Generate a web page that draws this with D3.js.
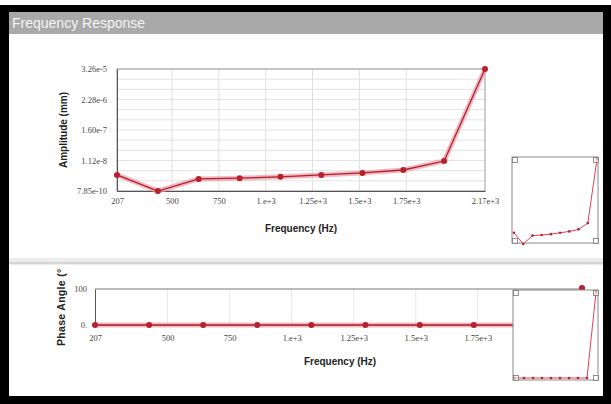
<!DOCTYPE html>
<html>
<head>
<meta charset="utf-8">
<script src="https://d3js.org/d3.v7.min.js"></script>
<style>
  body { margin: 0; background: #fff; }
  svg { display: block; font-family: "Liberation Sans", Arial, sans-serif; }
</style>
</head>
<body>
<div id="chart"></div>
<script>
// data
var freqs = [207, 425, 643, 861, 1079, 1297, 1516, 1734, 1952, 2170];
var amplitude = [3.2e-9, 7.85e-10, 2.25e-9, 2.4e-9, 2.7e-9, 3.2e-9, 3.8e-9, 4.9e-9, 1.07e-8, 3.26e-5];
var phase = [0, 0, 0, 0, 0, 0, 0, 0, 0, 100];

var xTickVals = [207, 500, 750, 1000, 1250, 1500, 1750, 2170];
var xTickLabels = ["207", "500", "750", "1.e+3", "1.25e+3", "1.5e+3", "1.75e+3", "2.17e+3"];
var ampTickVals = [7.85e-10, 1.12e-8, 1.60e-7, 2.28e-6, 3.26e-5];
var ampTickLabels = ["7.85e-10", "1.12e-8", "1.60e-7", "2.28e-6", "3.26e-5"];
var phaseTickVals = [0, 100];
var phaseTickLabels = ["0.", "100"];

var width = 611, height = 404;
var svg = d3.select("#chart").append("svg")
  .attr("width", width).attr("height", height);

// window frame
svg.append("rect").attr("x", 0).attr("y", 0).attr("width", width).attr("height", height).attr("fill", "#fff");
svg.append("rect").attr("x", 0).attr("y", 5).attr("width", width).attr("height", height - 5).attr("fill", "#000");
svg.append("rect").attr("x", 9).attr("y", 12).attr("width", 594).attr("height", 384).attr("fill", "#fff");

// title bar
svg.append("rect").attr("x", 9).attr("y", 12).attr("width", 594).attr("height", 22).attr("fill", "#a9a9a9");
svg.append("text").attr("x", 12).attr("y", 28)
  .attr("fill", "#f4f4f4").attr("font-size", "14px")
  .text("Frequency Response");

// separator between the two panels
svg.append("rect").attr("x", 9).attr("y", 258).attr("width", 594).attr("height", 7).attr("fill", "#ececec");
svg.append("line").attr("x1", 9).attr("x2", 603).attr("y1", 263).attr("y2", 263).attr("stroke", "#bdbdbd");

var labelOf = function(vals, labels) { return d => labels[vals.indexOf(d)]; };

function drawSeries(g, x, y, values, r, halo) {
  var line = d3.line().x((d, i) => x(freqs[i])).y(d => y(d));
  if (halo) {
    g.append("path").datum(values).attr("d", line)
      .attr("fill", "none").attr("stroke", "#f29aa5").attr("stroke-opacity", 0.7)
      .attr("stroke-width", 5).attr("stroke-linejoin", "round");
  }
  g.append("path").datum(values).attr("d", line)
    .attr("fill", "none").attr("stroke", halo ? "#a8222e" : "#e0405a")
    .attr("stroke-width", halo ? 1.3 : 1);
  g.selectAll("circle.pt").data(values).join("circle").attr("class", "pt")
    .attr("cx", (d, i) => x(freqs[i])).attr("cy", d => y(d))
    .attr("r", r).attr("fill", "#b8202e");
}

function drawInset(x0, y0, w, h, x, y, values) {
  var g = svg.append("g");
  g.append("rect").attr("x", x0).attr("y", y0).attr("width", w).attr("height", h)
    .attr("fill", "#fff").attr("stroke", "#8a8a8a");
  drawSeries(g, x, y, values, 1.3, false);
  var s = 5;
  [[x0, y0], [x0 + w - s, y0], [x0, y0 + h - s], [x0 + w - s, y0 + h - s]].forEach(function(c) {
    g.append("rect").attr("x", c[0] + 0.5).attr("y", c[1] + 0.5).attr("width", s).attr("height", s)
      .attr("fill", "#fff").attr("fill-opacity", 0.6).attr("stroke", "#777").attr("stroke-width", 0.8);
  });
}

// ---------- top panel: amplitude ----------
var xTop = d3.scaleLinear().domain([207, 2170]).range([117, 485]);
var yTop = d3.scaleLog().domain([7.85e-10, 3.26e-5]).range([191, 69]);

var topG = svg.append("g");
// grid
var minor = [];
for (var i = 0; i < ampTickVals.length - 1; i++) {
  var a = ampTickVals[i], b = ampTickVals[i + 1], k = Math.pow(b / a, 1 / 3);
  minor.push(a * k, a * k * k);
}
topG.selectAll(".hgrid").data(ampTickVals.concat(minor)).join("line").attr("class", "hgrid")
  .attr("x1", 117).attr("x2", 485).attr("y1", d => yTop(d)).attr("y2", d => yTop(d))
  .attr("stroke", "#e3e3e3");
topG.selectAll(".vgrid").data(xTickVals.slice(1, -1)).join("line").attr("class", "vgrid")
  .attr("x1", d => xTop(d)).attr("x2", d => xTop(d)).attr("y1", 69).attr("y2", 191)
  .attr("stroke", "#e0e0e0");
topG.append("rect").attr("x", 117).attr("y", 69).attr("width", 368).attr("height", 122)
  .attr("fill", "none").attr("stroke", "#9a9a9a");

topG.append("g").attr("transform", "translate(0,191)")
  .call(d3.axisBottom(xTop).tickValues(xTickVals).tickFormat(labelOf(xTickVals, xTickLabels)).tickSize(0).tickPadding(7))
  .call(g => g.select(".domain").attr("stroke", "#555"))
  .selectAll("text").attr("font-size", "8.5px").attr("fill", "#444").attr("font-family", "Liberation Serif, serif");
topG.append("g").attr("transform", "translate(117,0)")
  .call(d3.axisLeft(yTop).tickValues(ampTickVals).tickFormat(labelOf(ampTickVals, ampTickLabels)).tickSize(0).tickPadding(10))
  .call(g => g.select(".domain").attr("stroke", "#555"))
  .selectAll("text").attr("font-size", "8.5px").attr("fill", "#444").attr("font-family", "Liberation Serif, serif");

drawSeries(topG, xTop, yTop, amplitude, 3, true);

topG.append("text").attr("x", 301).attr("y", 232).attr("text-anchor", "middle")
  .attr("font-size", "10px").attr("font-weight", "bold").attr("fill", "#222").text("Frequency (Hz)");
topG.append("text").attr("transform", "translate(67,130) rotate(-90)").attr("text-anchor", "middle")
  .attr("font-size", "10px").attr("font-weight", "bold").attr("fill", "#222").text("Amplitude (mm)");

drawInset(512, 157, 86, 86,
  d3.scaleLinear().domain([207, 2170]).range([514, 597]),
  d3.scaleLog().domain([7.85e-10, 3.26e-5]).range([244, 159]),
  amplitude);

// ---------- bottom panel: phase ----------
var xBot = d3.scaleLinear().domain([207, 2170]).range([95, 582]);
var yBot = d3.scaleLinear().domain([0, 100]).range([325, 289]);

var botG = svg.append("g");
botG.selectAll(".vgrid").data(xTickVals.slice(1, -1)).join("line").attr("class", "vgrid")
  .attr("x1", d => xBot(d)).attr("x2", d => xBot(d)).attr("y1", 289).attr("y2", 325)
  .attr("stroke", "#e6e6e6");
botG.append("line").attr("x1", 95).attr("x2", 582).attr("y1", 289).attr("y2", 289).attr("stroke", "#777");

botG.append("g").attr("transform", "translate(0,325)")
  .call(d3.axisBottom(xBot).tickValues(xTickVals).tickFormat(labelOf(xTickVals, xTickLabels)).tickSize(0).tickPadding(10))
  .call(g => g.select(".domain").attr("stroke", "#999"))
  .selectAll("text").attr("font-size", "8.5px").attr("fill", "#444").attr("font-family", "Liberation Serif, serif");
botG.append("g").attr("transform", "translate(95,0)")
  .call(d3.axisLeft(yBot).tickValues(phaseTickVals).tickFormat(labelOf(phaseTickVals, phaseTickLabels)).tickSize(0).tickPadding(8))
  .call(g => g.select(".domain").attr("stroke", "#555"))
  .selectAll("text").attr("font-size", "8.5px").attr("fill", "#444").attr("font-family", "Liberation Serif, serif");

drawSeries(botG, xBot, yBot, phase, 3, true);

botG.append("text").attr("x", 340).attr("y", 365).attr("text-anchor", "middle")
  .attr("font-size", "10px").attr("font-weight", "bold").attr("fill", "#222").text("Frequency (Hz)");
svg.append("clipPath").attr("id", "panel2").append("rect")
  .attr("x", 9).attr("y", 268).attr("width", 594).attr("height", 128);
botG.append("g").attr("clip-path", "url(#panel2)")
  .append("text")
  .attr("transform", "translate(65,346) rotate(-90)").attr("text-anchor", "start")
  .attr("font-size", "10.5px").attr("font-weight", "bold").attr("fill", "#222")
  .attr("letter-spacing", "0.3px").text("Phase Angle (°)");

drawInset(513, 290, 85, 90,
  d3.scaleLinear().domain([207, 2170]).range([515, 596]),
  d3.scaleLinear().domain([0, 100]).range([378, 292]),
  phase);

// last phase point sits just above the overview box
botG.append("circle").attr("cx", xBot(freqs[9])).attr("cy", yBot(phase[9]) - 1).attr("r", 3).attr("fill", "#b8202e");
</script>
</body>
</html>
